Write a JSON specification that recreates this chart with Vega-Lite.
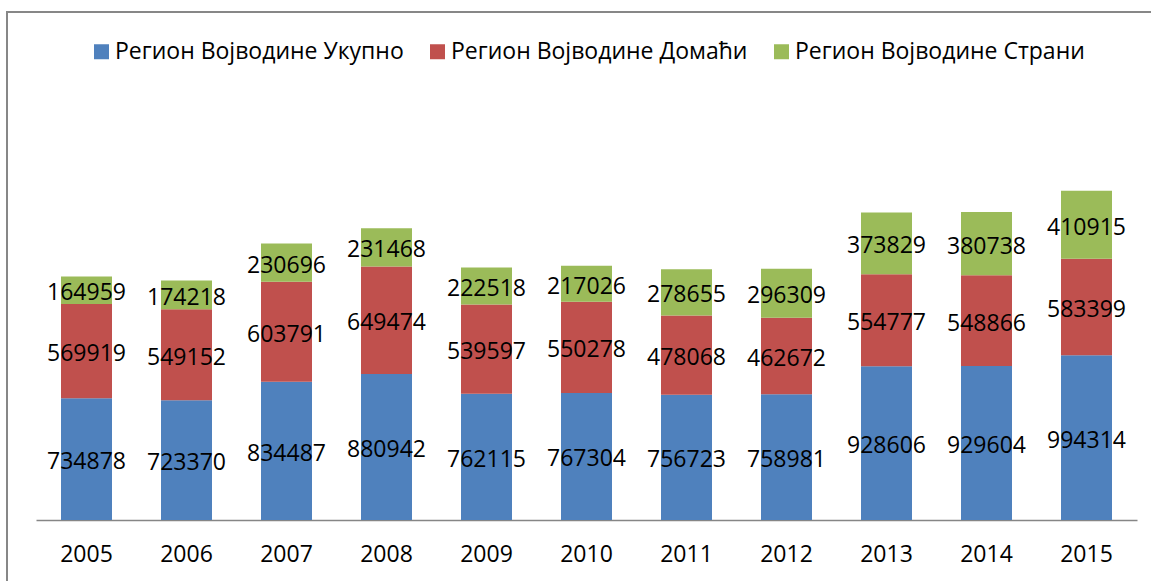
{
  "$schema": "https://vega.github.io/schema/vega-lite/v6.json",
  "width": 1154,
  "height": 580,
  "autosize": {"type": "none"},
  "padding": {"left": 7, "top": 12, "right": 0, "bottom": 0},
  "background": "white",
  "config": {"view": {"stroke": "#878787", "strokeWidth": 2}, "font": "Open Sans"},
  "data": {"values": [
    {"year": "2005", "series": "Регион Војводине Укупно", "n": 1, "value": 734878},
    {"year": "2005", "series": "Регион Војводине Домаћи", "n": 2, "value": 569919},
    {"year": "2005", "series": "Регион Војводине Страни", "n": 3, "value": 164959},
    {"year": "2006", "series": "Регион Војводине Укупно", "n": 1, "value": 723370},
    {"year": "2006", "series": "Регион Војводине Домаћи", "n": 2, "value": 549152},
    {"year": "2006", "series": "Регион Војводине Страни", "n": 3, "value": 174218},
    {"year": "2007", "series": "Регион Војводине Укупно", "n": 1, "value": 834487},
    {"year": "2007", "series": "Регион Војводине Домаћи", "n": 2, "value": 603791},
    {"year": "2007", "series": "Регион Војводине Страни", "n": 3, "value": 230696},
    {"year": "2008", "series": "Регион Војводине Укупно", "n": 1, "value": 880942},
    {"year": "2008", "series": "Регион Војводине Домаћи", "n": 2, "value": 649474},
    {"year": "2008", "series": "Регион Војводине Страни", "n": 3, "value": 231468},
    {"year": "2009", "series": "Регион Војводине Укупно", "n": 1, "value": 762115},
    {"year": "2009", "series": "Регион Војводине Домаћи", "n": 2, "value": 539597},
    {"year": "2009", "series": "Регион Војводине Страни", "n": 3, "value": 222518},
    {"year": "2010", "series": "Регион Војводине Укупно", "n": 1, "value": 767304},
    {"year": "2010", "series": "Регион Војводине Домаћи", "n": 2, "value": 550278},
    {"year": "2010", "series": "Регион Војводине Страни", "n": 3, "value": 217026},
    {"year": "2011", "series": "Регион Војводине Укупно", "n": 1, "value": 756723},
    {"year": "2011", "series": "Регион Војводине Домаћи", "n": 2, "value": 478068},
    {"year": "2011", "series": "Регион Војводине Страни", "n": 3, "value": 278655},
    {"year": "2012", "series": "Регион Војводине Укупно", "n": 1, "value": 758981},
    {"year": "2012", "series": "Регион Војводине Домаћи", "n": 2, "value": 462672},
    {"year": "2012", "series": "Регион Војводине Страни", "n": 3, "value": 296309},
    {"year": "2013", "series": "Регион Војводине Укупно", "n": 1, "value": 928606},
    {"year": "2013", "series": "Регион Војводине Домаћи", "n": 2, "value": 554777},
    {"year": "2013", "series": "Регион Војводине Страни", "n": 3, "value": 373829},
    {"year": "2014", "series": "Регион Војводине Укупно", "n": 1, "value": 929604},
    {"year": "2014", "series": "Регион Војводине Домаћи", "n": 2, "value": 548866},
    {"year": "2014", "series": "Регион Војводине Страни", "n": 3, "value": 380738},
    {"year": "2015", "series": "Регион Војводине Укупно", "n": 1, "value": 994314},
    {"year": "2015", "series": "Регион Војводине Домаћи", "n": 2, "value": 583399},
    {"year": "2015", "series": "Регион Војводине Страни", "n": 3, "value": 410915}
  ]},
  "encoding": {
    "x": {
      "field": "year", "type": "ordinal",
      "scale": {"range": [29, 1130], "paddingInner": 0.49, "paddingOuter": 0.25},
      "axis": {"orient": "bottom", "offset": -72, "title": null, "labelAngle": 0, "ticks": false,
               "domainColor": "#868686", "domainWidth": 1.5, "labelFontSize": 23, "labelColor": "#000000",
               "labelPadding": 23, "labelFont": "Open Sans"}
    },
    "y": {
      "field": "value", "type": "quantitative", "stack": "zero",
      "scale": {"domain": [0, 2500000], "range": [508, 94]},
      "axis": null
    },
    "order": {"field": "n", "type": "quantitative"}
  },
  "layer": [
    {
      "mark": {"type": "bar"},
      "encoding": {
        "color": {
          "field": "series", "type": "nominal",
          "scale": {
            "domain": ["Регион Војводине Укупно", "Регион Војводине Домаћи", "Регион Војводине Страни"],
            "range": ["#4F81BD", "#C0504D", "#9BBB59"]
          },
          "legend": {
            "orient": "none", "legendX": 83, "legendY": 28, "direction": "horizontal", "title": null,
            "symbolType": "square", "symbolSize": 225, "symbolStrokeWidth": 0,
            "labelFontSize": 23, "labelFont": "Open Sans", "labelColor": "#000000",
            "labelOffset": 2, "columnPadding": 22, "labelLimit": 500
          }
        }
      }
    },
    {
      "mark": {"type": "text", "fontSize": 23, "baseline": "middle", "align": "center", "color": "#000000", "dy": 3},
      "encoding": {
        "y": {"field": "value", "type": "quantitative", "stack": "zero", "bandPosition": 0.5},
        "detail": {"field": "series", "type": "nominal"},
        "text": {"field": "value", "type": "quantitative", "format": "d"}
      }
    }
  ]
}
